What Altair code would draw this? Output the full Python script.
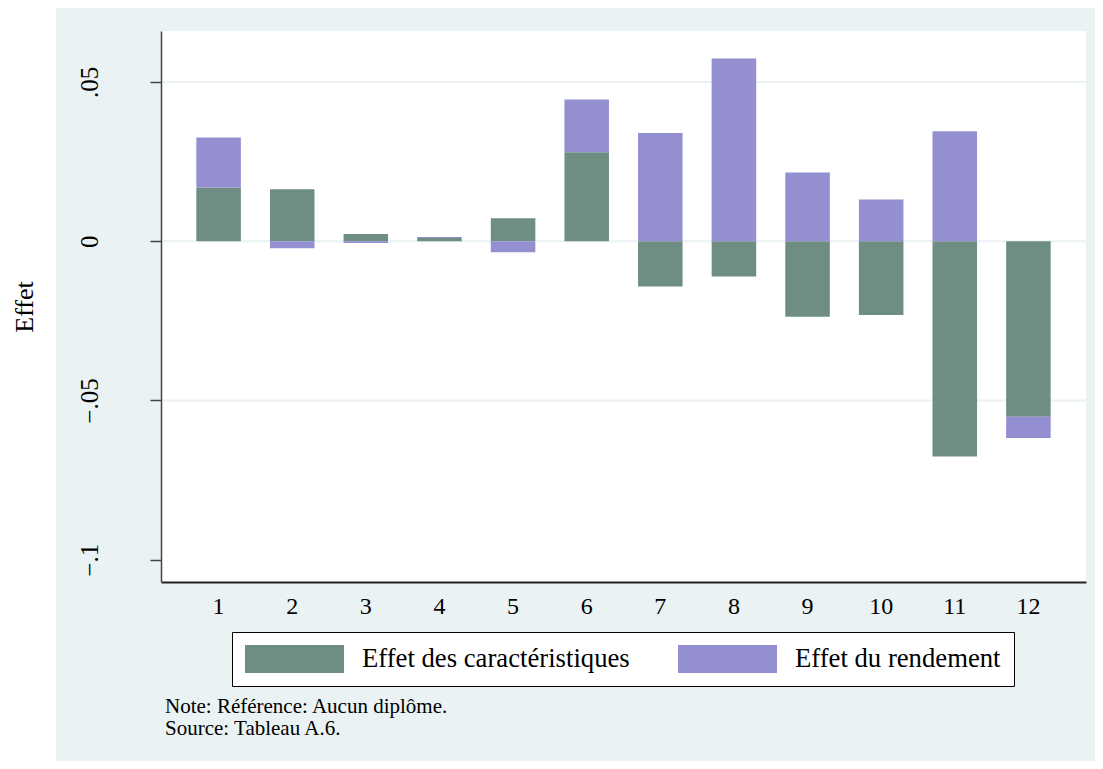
import altair as alt
import pandas as pd

# ---- data ----
CATEGORIES = ["1", "2", "3", "4", "5", "6", "7", "8", "9", "10", "11", "12"]
EFFET_CARACTERISTIQUES = [0.0169, 0.0163, 0.0023, 0.0010, 0.0072, 0.0279,
                          -0.0142, -0.0111, -0.0237, -0.0232, -0.0676, -0.0551]
EFFET_RENDEMENT = [0.0157, -0.0022, -0.0006, 0.0003, -0.0035, 0.0166,
                   0.0340, 0.0574, 0.0216, 0.0131, 0.0345, -0.0067]
SERIES = ["Effet des caractéristiques", "Effet du rendement"]
COLORS = ["#6e8e84", "#948fd0"]
Y_TICKS = [-0.1, -0.05, 0, 0.05]
GRID_VALUES = [-0.05, 0, 0.05]
Y_TITLE = "Effet"
NOTE_LINES = ["Note: Référence: Aucun diplôme.", "Source: Tableau A.6."]

FONT = "Liberation Serif"
W, H = 925, 551
BG = "#eaf2f3"

rows = []
for i, c in enumerate(CATEGORIES):
    rows.append({"cat": c, "serie": SERIES[0], "value": EFFET_CARACTERISTIQUES[i], "ord": 0})
    rows.append({"cat": c, "serie": SERIES[1], "value": EFFET_RENDEMENT[i], "ord": 1})
df = pd.DataFrame(rows)
one = pd.DataFrame({"k": [0]})

y_scale = alt.Scale(domain=[-0.107, 0.066], nice=False, zero=False)
y_axis = alt.Axis(title=Y_TITLE, values=Y_TICKS, grid=False,
                  labelExpr="replace(format(datum.value, '~g'), '0.', '.')",
                  labelAngle=270, labelAlign="center", labelBaseline="bottom",
                  labelPadding=48, labelFont=FONT, labelFontSize=25, labelColor="black",
                  tickSize=11, tickWidth=1.5, tickColor="#444444",
                  domainColor="#444444", domainWidth=1.5,
                  titleFont=FONT, titleFontSize=26, titleFontWeight="normal",
                  titleColor="black", titlePadding=40, zindex=1)

bg = alt.Chart(one).mark_rect(color=BG).encode(
    x=alt.value(-105), x2=alt.value(W + 9), y=alt.value(-23), y2=alt.value(H + 179)
)
plot_bg = alt.Chart(one).mark_rect(color="white").encode(
    x=alt.value(0), x2=alt.value(W), y=alt.value(0), y2=alt.value(H)
)
grid = alt.Chart(pd.DataFrame({"value": GRID_VALUES})).mark_rule(color=BG, strokeWidth=2).encode(
    y=alt.Y("value:Q", scale=y_scale, axis=y_axis)
)

symbol_path = "M-1,-1L6.071,-1L6.071,1L-1,1Z"

bars = alt.Chart(df).mark_bar().encode(
    x=alt.X("cat:O", sort=CATEGORIES,
            scale=alt.Scale(paddingInner=0.395, paddingOuter=0.48),
            axis=alt.Axis(title=None, labelAngle=0, ticks=False, labelPadding=12,
                          labelFont=FONT, labelFontSize=24, labelColor="black",
                          domainColor="#222222", domainWidth=2, zindex=1)),
    y=alt.Y("value:Q", stack="zero", scale=y_scale, axis=y_axis),
    color=alt.Color("serie:N", scale=alt.Scale(domain=SERIES, range=COLORS), title=None,
                    legend=alt.Legend(orient="none", legendX=71, legendY=601,
                                      direction="horizontal", strokeColor="black",
                                      fillColor="white", padding=13,
                                      symbolType=symbol_path, symbolSize=784,
                                      symbolStrokeWidth=0, symbolOpacity=1,
                                      labelFont=FONT, labelFontSize=26.7, labelColor="black",
                                      labelLimit=500, labelOffset=89, columnPadding=48)),
    order=alt.Order("ord:Q", sort="ascending"),
)

note = alt.Chart(one).mark_text(align="left", baseline="top", font=FONT, fontSize=21,
                                lineHeight=22, color="black").encode(
    x=alt.value(4), y=alt.value(665), text=alt.value(NOTE_LINES)
)

chart = alt.layer(bg, plot_bg, grid, bars, note).properties(
    width=W, height=H,
    autosize=alt.AutoSizeParams(type="none"),
    padding={"left": 153, "top": 23, "right": 9, "bottom": 179},
).configure(background="white").configure_view(stroke=None)

chart.save("out.html", embed_options={"renderer": "svg", "actions": False})
